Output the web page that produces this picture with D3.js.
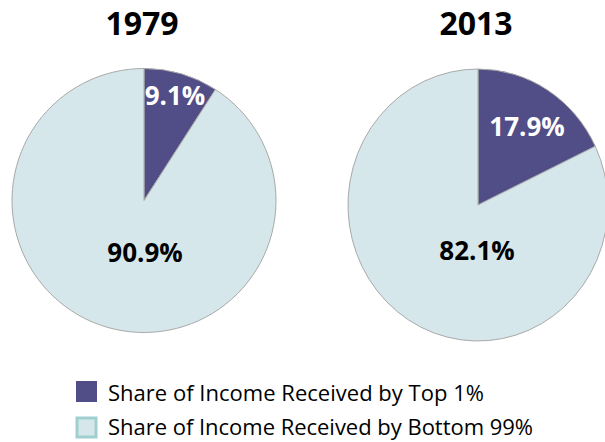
<!DOCTYPE html>
<html>
<head>
<meta charset="utf-8">
<script src="https://cdn.jsdelivr.net/npm/d3@7"></script>
<style>
  html, body { margin: 0; padding: 0; background: #fff; }
  svg { display: block; font-family: "Open Sans", sans-serif; }
</style>
</head>
<body>
<div id="chart"></div>
<script>
// data
const years = ["1979", "2013"];
const top1Share = [9.1, 17.9];
const bottom99Share = [90.9, 82.1];
const seriesNames = ["Share of Income Received by Top 1%", "Share of Income Received by Bottom 99%"];

const colors = ["#514d87", "#d5e7ea"];
const legendStroke = ["#514d87", "#a0cfd0"];

// layout per pie: centre, radius, and label offsets from centre
const pieLayout = [
  { cx: 144, cy: 200.5, rx: 132, ry: 132, labels: [[31, -105], [1, 52]] },
  { cx: 478, cy: 205, rx: 130, ry: 136, labels: [[49, -78], [-1, 46]] }
];

var width = 605, height = 442;

var svg = d3.select("#chart")
  .append("svg")
    .attr("width", width)
    .attr("height", height);

var pie = d3.pie()
  .sort(null)
  .value(function (d) { return d; });

years.forEach(function (year, i) {
  var lay = pieLayout[i];
  var values = [top1Share[i], bottom99Share[i]];

  var g = svg.append("g")
    .attr("transform", "translate(" + lay.cx + "," + lay.cy + ")");

  var arc = d3.arc().innerRadius(0).outerRadius(lay.rx);

  g.append("g")
    .attr("transform", "scale(1," + (lay.ry / lay.rx) + ")")
    .selectAll("path")
    .data(pie(values))
    .enter()
    .append("path")
      .attr("d", arc)
      .attr("fill", function (d, j) { return colors[j]; })
      .attr("stroke", "#a9a9a9")
      .attr("stroke-width", 1)
      .attr("vector-effect", "non-scaling-stroke");

  // title
  svg.append("text")
    .attr("x", lay.cx - 2)
    .attr("y", 35)
    .attr("text-anchor", "middle")
    .attr("font-size", 32)
    .attr("font-weight", "bold")
    .attr("fill", "#000")
    .text(year);

  // slice labels
  values.forEach(function (v, j) {
    g.append("text")
      .attr("x", lay.labels[j][0])
      .attr("y", lay.labels[j][1])
      .attr("dy", "0.35em")
      .attr("text-anchor", "middle")
      .attr("font-size", 26)
      .attr("font-weight", "bold")
      .attr("fill", j === 0 ? "#fff" : "#000")
      .text(d3.format(".1f")(v) + "%");
  });
});

// legend
var legend = svg.append("g")
  .attr("transform", "translate(76,381)");

var item = legend.selectAll("g")
  .data(seriesNames)
  .enter()
  .append("g")
    .attr("transform", function (d, i) { return "translate(0," + (i * 36) + ")"; });

item.append("rect")
  .attr("x", function (d, i) { return i === 0 ? 0 : 1; })
  .attr("y", function (d, i) { return i === 0 ? 0 : 1; })
  .attr("width", function (d, i) { return i === 0 ? 21 : 19; })
  .attr("height", function (d, i) { return i === 0 ? 21 : 19; })
  .attr("fill", function (d, i) { return colors[i]; })
  .attr("stroke", function (d, i) { return legendStroke[i]; })
  .attr("stroke-width", function (d, i) { return i === 0 ? 0 : 3; });

item.append("text")
  .attr("x", 32)
  .attr("y", function (d, i) { return i === 0 ? 20 : 18; })
  .attr("font-size", 22)
  .attr("textLength", function (d, i) { return i === 0 ? 376 : 425; })
  .attr("lengthAdjust", "spacing")
  .attr("fill", "#000")
  .text(function (d) { return d; });
</script>
</body>
</html>
